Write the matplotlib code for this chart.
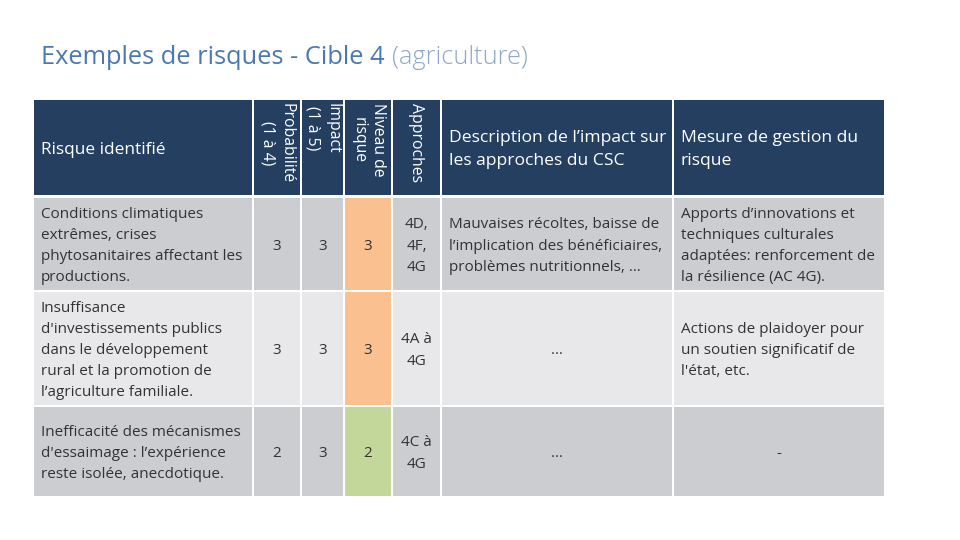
import matplotlib
matplotlib.use("Agg")
import matplotlib.pyplot as plt
from matplotlib.patches import Rectangle

# ---- data ----
title_main = "Exemples de risques - Cible 4"
title_sub = "(agriculture)"
headers = ["Risque identifié", "Probabilité\n(1 à 4)", "Impact\n(1 à 5)", "Niveau de\nrisque",
           "Approches", "Description de l’impact sur\nles approches du CSC", "Mesure de gestion du\nrisque"]
risques = ["Conditions climatiques\nextrêmes, crises\nphytosanitaires affectant les\nproductions.",
           "Insuffisance\nd'investissements publics\ndans le développement\nrural et la promotion de\nl’agriculture familiale.",
           "Inefficacité des mécanismes\nd'essaimage : l’expérience\nreste isolée, anecdotique."]
probabilite = [3, 3, 2]
impact = [3, 3, 3]
niveau = [3, 3, 2]
approches = ["4D,\n4F,\n4G", "4A à\n4G", "4C à\n4G"]
descriptions = ["Mauvaises récoltes, baisse de\nl’implication des bénéficiaires,\nproblèmes nutritionnels, …", "…", "…"]
mesures = ["Apports d’innovations et\ntechniques culturales\nadaptées: renforcement de\nla résilience (AC 4G).",
           "Actions de plaidoyer pour\nun soutien significatif de\nl'état, etc.", "-"]

# ---- styles ----
FONT = ["Open Sans", "DejaVu Sans"]
HEADER_BG = "#243F60"
ROW_BG = ["#CBCDD1", "#E8E8EA", "#CBCDD1"]
NIVEAU_COLORS = {3: "#FAC090", 2: "#C4D79B"}
TXT = "#333333"
FS = 11
LS = 1.56

col_edges = [(34, 252), (254, 300), (302, 343), (345, 391), (393, 440), (442, 672), (674, 884)]
row_edges = [(100, 195), (198, 290), (292, 405), (407, 496)]

fig = plt.figure(figsize=(9.6, 5.4), dpi=100)
ax = fig.add_axes([0, 0, 1, 1])
ax.set_xlim(0, 960)
ax.set_ylim(540, 0)
ax.axis("off")

# title
t1 = ax.text(41, 58, title_main, fontsize=18.3, color="#4A78B0", family=FONT,
             va="center", ha="left")
fig.canvas.draw()
bb = t1.get_window_extent(renderer=fig.canvas.get_renderer())
ax.text(bb.x1 + 7, 58, title_sub, fontsize=18.3, color="#8FA8C8", family=FONT,
        fontweight="light", va="center", ha="left")

# header
y0, y1 = row_edges[0]
for j, (x0, x1) in enumerate(col_edges):
    ax.add_patch(Rectangle((x0, y0), x1 - x0, y1 - y0, color=HEADER_BG, lw=0))
    h = headers[j]
    if j == 0:
        ax.text(x0 + 7, (y0 + y1) / 2 + 3, h, color="white", fontsize=12.4, family=FONT,
                va="center", ha="left")
    elif 1 <= j <= 4:
        ax.text((x0 + x1) / 2, y0 + 3, h, color="white", fontsize=11.3, family=FONT,
                rotation=-90, va="top", ha="center", linespacing=1.25)
    else:
        ax.text(x0 + 7, (y0 + y1) / 2 + 2, h, color="white", fontsize=12.6, family=FONT,
                va="center", ha="left", linespacing=1.53)

# body rows
for i in range(3):
    y0, y1 = row_edges[i + 1]
    yc = (y0 + y1) / 2 + 2
    for j, (x0, x1) in enumerate(col_edges):
        bg = ROW_BG[i]
        if j == 3:
            bg = NIVEAU_COLORS[niveau[i]]
        ax.add_patch(Rectangle((x0, y0), x1 - x0, y1 - y0, color=bg, lw=0))
    xc = [(a + b) / 2 for a, b in col_edges]
    ax.text(col_edges[0][0] + 7, yc, risques[i], color=TXT, fontsize=FS, family=FONT,
            va="center", ha="left", linespacing=LS)
    ax.text(xc[1], yc, str(probabilite[i]), color=TXT, fontsize=FS, family=FONT, va="center", ha="center")
    ax.text(xc[2], yc, str(impact[i]), color=TXT, fontsize=FS, family=FONT, va="center", ha="center")
    ax.text(xc[3], yc, str(niveau[i]), color=TXT, fontsize=FS, family=FONT, va="center", ha="center")
    ax.text(xc[4], yc, approches[i], color=TXT, fontsize=FS, family=FONT, va="center", ha="center",
            linespacing=LS)
    d = descriptions[i]
    if "\n" in d:
        ax.text(col_edges[5][0] + 7, yc, d, color=TXT, fontsize=FS, family=FONT,
                va="center", ha="left", linespacing=LS)
    else:
        ax.text(xc[5], yc, d, color=TXT, fontsize=FS, family=FONT, va="center", ha="center")
    m = mesures[i]
    if "\n" in m:
        ax.text(col_edges[6][0] + 7, yc, m, color=TXT, fontsize=FS, family=FONT,
                va="center", ha="left", linespacing=LS)
    else:
        ax.text(xc[6], yc, m, color=TXT, fontsize=FS, family=FONT, va="center", ha="center")

fig.savefig("out.png", dpi=100, facecolor="white")
